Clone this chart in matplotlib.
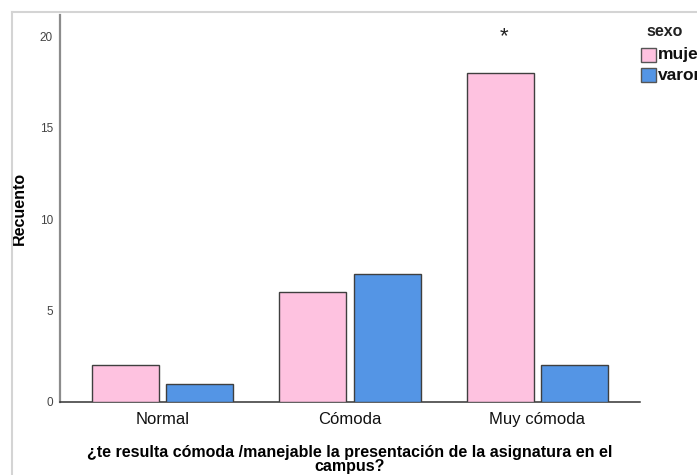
import matplotlib
matplotlib.use("Agg")
import matplotlib.pyplot as plt
import numpy as np
from matplotlib.patches import Rectangle
from matplotlib.lines import Line2D

plt.rcParams['font.family'] = ['Liberation Sans', 'DejaVu Sans']

categories = ["Normal", "Cómoda", "Muy cómoda"]
mujer = [2, 6, 18]
varon = [1, 7, 2]
series_names = ["mujer", "varon"]
legend_title = "sexo"
y_ticks = [0, 5, 10, 15, 20]
x_title = "¿te resulta cómoda /manejable la presentación de la asignatura en el\ncampus?"
y_title = "Recuento"

W, H = 697, 475
fig = plt.figure(figsize=(W / 100, H / 100), dpi=100)
ax = fig.add_axes([60 / W, 1 - 402 / H, (640 - 60) / W, (402 - 15) / H])

colors = ["#FEC2E0", "#5495E5"]
edge = "#3f3f3f"
x = np.arange(len(categories))
bw = 0.358
off = 0.198
ax.bar(x - off, mujer, bw, color=colors[0], edgecolor=edge, linewidth=1.0, zorder=3)
ax.bar(x + off, varon, bw, color=colors[1], edgecolor=edge, linewidth=1.0, zorder=3)

ax.set_xlim(-0.55, 2.55)
ax.set_ylim(0, 21.15)
ax.set_yticks(y_ticks)
ax.set_yticklabels([str(t) for t in y_ticks])
ax.set_xticks(x)
ax.set_xticklabels(categories)

for s in ["top", "right"]:
    ax.spines[s].set_visible(False)
ax.spines["left"].set_color("#8c8c8c")
ax.spines["left"].set_linewidth(1.6)
ax.spines["bottom"].set_color("#333333")
ax.spines["bottom"].set_linewidth(1.1)

ax.tick_params(axis="y", length=0, pad=5, labelsize=8.5, labelcolor="#444444")
ax.tick_params(axis="x", length=0, pad=7, labelsize=12, labelcolor="#111111")

ax.set_ylabel(y_title, fontsize=11.5, fontweight="bold", labelpad=9)
ax.set_xlabel(x_title, fontsize=11.5, fontweight="bold", labelpad=13, linespacing=0.95)

# significance marker over the tallest bar
ax.text(x[2] - off + 0.02, 19.4, "*", ha="center", va="bottom", fontsize=16, color="#222222")

# outer frame
fig.add_artist(Line2D([12 / W, 12 / W], [0, 1 - 12 / H], transform=fig.transFigure,
                      color="#d4d4d4", linewidth=1.5))
fig.add_artist(Line2D([12 / W, 1.0], [1 - 12 / H, 1 - 12 / H], transform=fig.transFigure,
                      color="#d4d4d4", linewidth=1.5))

# legend
fig.text(665 / W, 1 - 31 / H, legend_title, ha="center", va="center",
         fontsize=11.5, fontweight="bold", color="#222222")
for i, (name, c) in enumerate(zip(series_names, colors)):
    y0 = 48 + i * 20
    fig.add_artist(Rectangle((641 / W, 1 - (y0 + 14) / H), 15 / W, 14 / H,
                             transform=fig.transFigure, facecolor=c,
                             edgecolor="#555555", linewidth=1.0))
    fig.text(658 / W, 1 - (y0 + 7) / H, name, ha="left", va="center",
             fontsize=12.5, fontweight="bold", color="#111111")

fig.savefig("out.png", dpi=100)
